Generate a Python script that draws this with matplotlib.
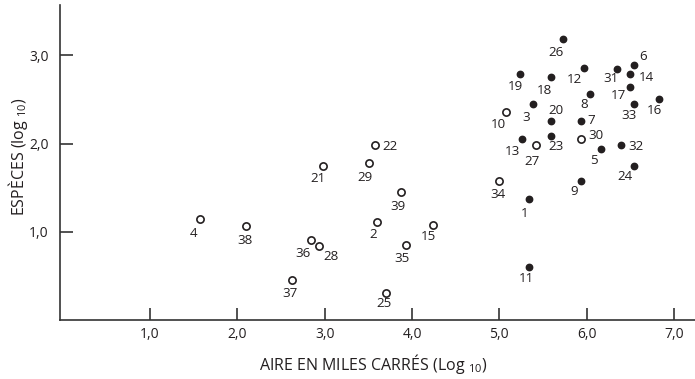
import matplotlib
matplotlib.use("Agg")
import matplotlib.pyplot as plt

# island area vs species count (both log10)
filled_ids = ["26", "12", "19", "18", "31", "6", "14", "17", "8", "16", "33",
              "3", "20", "7", "23", "13", "5", "32", "24", "9", "1", "11"]
filled_x = [5.73, 5.97, 5.24, 5.59, 6.35, 6.54, 6.50, 6.50, 6.04, 6.83, 6.54,
            5.38, 5.59, 5.93, 5.59, 5.26, 6.16, 6.39, 6.54, 5.93, 5.34, 5.34]
filled_y = [3.18, 2.86, 2.79, 2.75, 2.85, 2.89, 2.79, 2.64, 2.56, 2.51, 2.45,
            2.45, 2.25, 2.25, 2.09, 2.05, 1.94, 1.98, 1.74, 1.57, 1.37, 0.60]

open_ids = ["10", "30", "27", "34", "22", "29", "21", "39", "4", "38", "2",
            "15", "36", "28", "35", "37", "25"]
open_x = [5.08, 5.93, 5.42, 5.00, 3.58, 3.51, 2.98, 3.87, 1.57, 2.10, 3.60,
          4.24, 2.84, 2.93, 3.93, 2.63, 3.70]
open_y = [2.36, 2.05, 1.98, 1.57, 1.98, 1.78, 1.75, 1.45, 1.14, 1.06, 1.11,
          1.08, 0.91, 0.84, 0.85, 0.45, 0.31]

x_ticks = [1.0, 2.0, 3.0, 4.0, 5.0, 6.0, 7.0]
y_ticks = [1.0, 2.0, 3.0]

# label placement relative to its point, in pixels (right, down)
label_offsets = {
    "26": (-7, 13), "12": (-10, 12), "19": (-5, 13), "18": (-6, 13),
    "31": (-6, 10), "6": (9, -8), "14": (16, 4), "17": (-12, 8),
    "8": (-6, 10), "16": (-5, 12), "33": (-5, 12), "3": (-6, 14),
    "20": (5, -11), "7": (11, -1), "23": (5, 11), "13": (-10, 12),
    "5": (-7, 12), "32": (15, 1), "24": (-9, 10), "9": (-6, 10),
    "1": (-4, 14), "11": (-3, 11), "10": (-8, 13), "30": (15, -4),
    "27": (-4, 16), "34": (-1, 13), "22": (15, 1), "29": (-4, 15),
    "21": (-5, 13), "39": (-3, 14), "4": (-6, 14), "38": (-1, 14),
    "2": (-4, 12), "15": (-5, 12), "36": (-8, 14), "28": (13, 11),
    "35": (-4, 14), "37": (-2, 13), "25": (-2, 11),
}

family = "Open Sans"
plt.rcParams["font.family"] = [family, "DejaVu Sans"]
plt.rcParams["mathtext.fontset"] = "custom"
plt.rcParams["mathtext.rm"] = family

ink = "#231f20"
fig = plt.figure(figsize=(6.95, 3.79), dpi=100)
ax = fig.add_axes([60 / 695, 1 - 320 / 379, 1 - 60 / 695, 315 / 379])

ax.plot(filled_x, filled_y, "o", ms=4.6, color=ink, mec=ink, ls="none")
ax.plot(open_x, open_y, "o", ms=5.2, mfc="white", mec=ink, mew=1.2, ls="none")

for ids, xs, ys in ((filled_ids, filled_x, filled_y), (open_ids, open_x, open_y)):
    for lab, xv, yv in zip(ids, xs, ys):
        dx, dy = label_offsets[lab]
        ax.annotate(lab, (xv, yv), xytext=(dx, -dy), textcoords="offset pixels",
                    ha="center", va="center", fontsize=9.6, color=ink)

ax.set_xlim(-0.03, 7.24)
ax.set_ylim(0, 3.57)
for side in ("top", "right"):
    ax.spines[side].set_visible(False)
for side in ("left", "bottom"):
    ax.spines[side].set_linewidth(1.2)
    ax.spines[side].set_color("#333333")

ax.set_xticks(x_ticks)
ax.set_xticklabels([f"{t:.1f}".replace(".", ",") for t in x_ticks])
ax.set_yticks(y_ticks)
ax.set_yticklabels([f"{t:.1f}".replace(".", ",") for t in y_ticks])
ax.tick_params(axis="both", direction="in", length=9, width=1.2, color="#333333",
               labelsize=10, labelcolor=ink)
ax.tick_params(axis="x", pad=5)
ax.tick_params(axis="y", pad=8)

ax.set_xlabel(r"AIRE EN MILES CARRÉS (Log $\mathregular{_{10}}$)", fontsize=11.5,
              color=ink, va="center")
ax.set_ylabel(r"ESPÈCES (log $\mathregular{_{10}}$)", fontsize=11.5, color=ink,
              va="center")
ax.xaxis.set_label_coords((373 - 60) / 635, (320 - 364) / 315)
ax.yaxis.set_label_coords((18 - 60) / 635, (320 - 157) / 315)

fig.savefig("out.png", dpi=100)
